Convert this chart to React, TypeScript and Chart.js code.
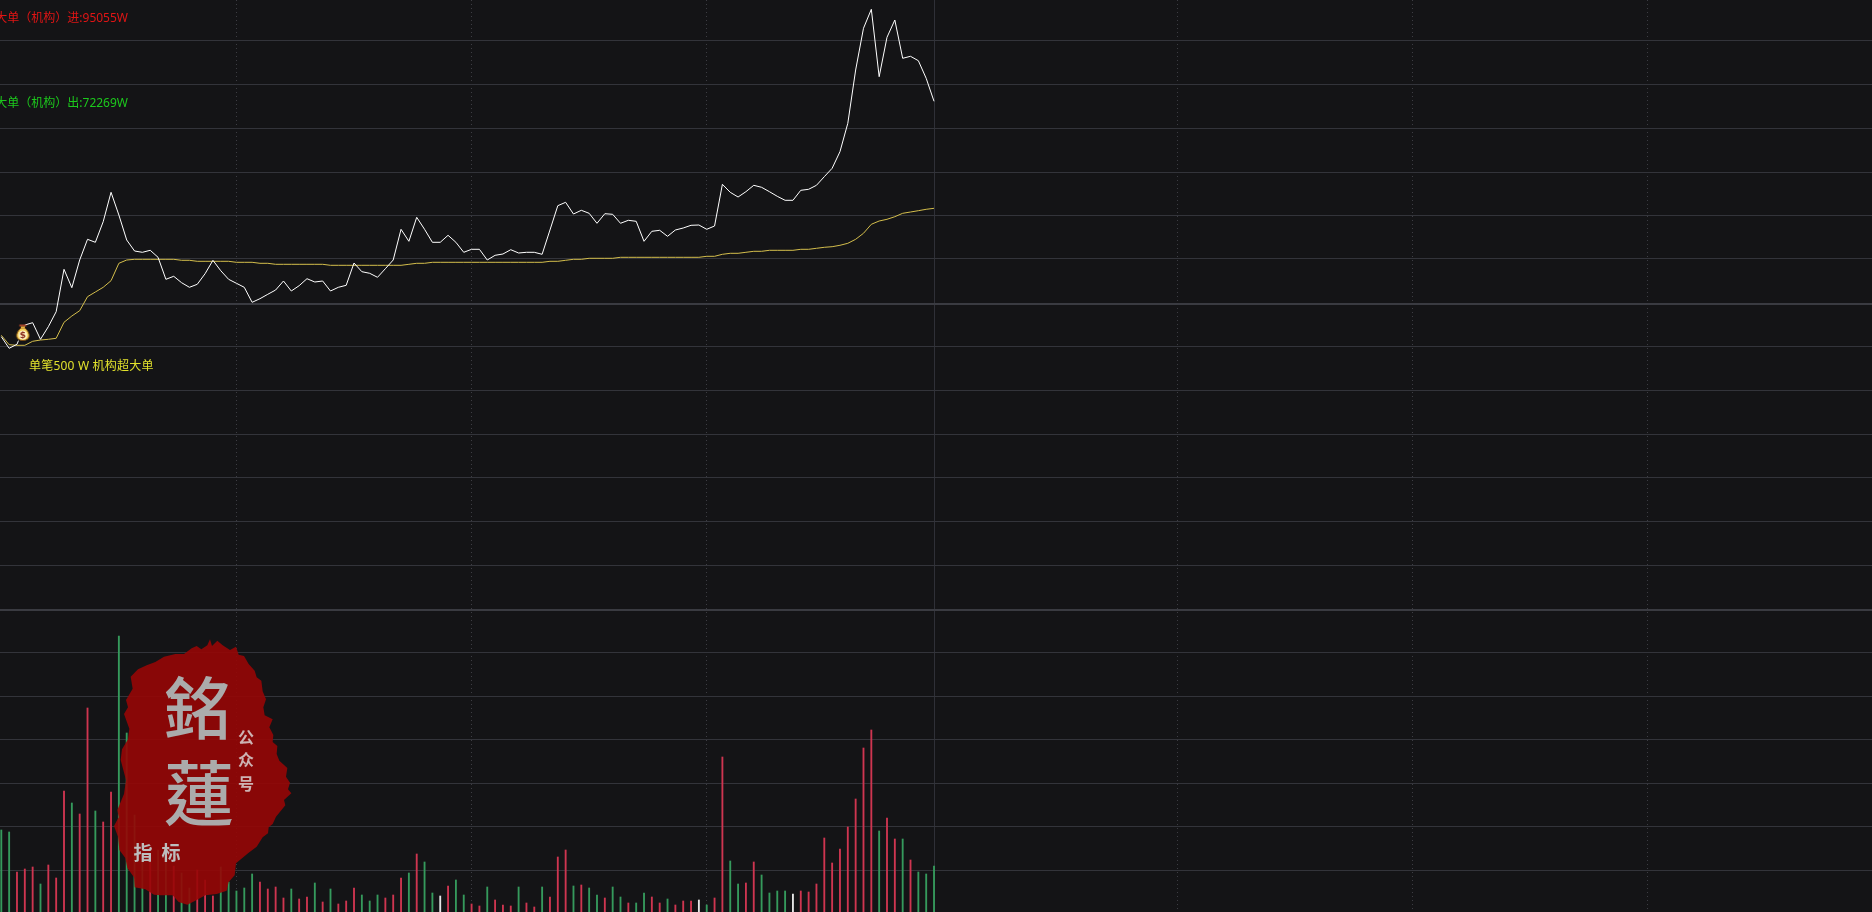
import React, { useEffect, useRef } from "react";
import { Chart, registerables } from "chart.js";

Chart.register(...registerables);

// Heights above the bottom of the plot, one value per minute of the morning session.
const inflowLine = [
  575.3, 563.7, 567.7, 587, 589.3, 572.7, 585.3, 600.3, 642.7, 624.3, 652, 672.7, 669.7, 690.3, 719.7, 697, 672, 661, 659.7, 661.7,
  654.7, 632.7, 635.7, 629.3, 624.7, 627.7, 638.3, 651.7, 641.3, 632.7, 628.7, 624.7, 609.7, 613.3, 617.7, 622, 631, 621, 626.3, 633.3,
  630, 631, 621, 624.7, 626.7, 649, 640.3, 638.7, 634.7, 643.3, 652, 682.7, 670.7, 694.7, 682.7, 669.7, 669.7, 676.7, 669.7, 659.7,
  662.7, 662.7, 652, 656.7, 658, 662.3, 659, 659.7, 659.7, 657.7, 682, 706.3, 709.7, 698, 701.7, 698.7, 688.7, 698.3, 697.7, 688.7,
  691.7, 690.7, 670.7, 680.7, 681.7, 675.7, 682, 684, 686.7, 687, 682.7, 686, 727.7, 719.7, 715, 720.3, 726.7, 724.7, 720.3, 715.7,
  711.7, 711.7, 721.7, 722.7, 726.7, 735.3, 743.7, 760.3, 788.7, 842, 883.7, 902.7, 835.3, 874.7, 892, 853.7, 855.7, 851.3, 833.7, 810.7,
];
const averageLine = [
  576.7, 567.3, 566.7, 566.7, 570.7, 572, 572.7, 573.7, 589.7, 596, 601.3, 615.3, 620, 624.7, 631.3, 648.7, 652, 652.7, 652.7, 652.7,
  652.7, 652.7, 652.7, 651.7, 651.7, 650.7, 650.7, 650.7, 650.7, 650.7, 649.7, 649.7, 649.7, 648.7, 648.7, 647.7, 647.7, 647.7, 647.7, 647.7,
  647.7, 647.7, 646.7, 646.7, 646.7, 646.7, 646.7, 646.7, 646.7, 646.7, 646.7, 646.7, 647.7, 648.7, 648.7, 649.7, 649.7, 649.7, 649.7, 649.7,
  649.7, 649.7, 649.7, 649.7, 649.7, 649.7, 649.7, 649.7, 649.7, 649.7, 650.7, 650.7, 651.7, 652.7, 652.7, 653.7, 653.7, 653.7, 653.7, 654.7,
  654.7, 654.7, 654.7, 654.7, 654.7, 654.7, 654.7, 654.7, 654.7, 654.7, 655.7, 655.7, 657.7, 658.7, 658.7, 659.7, 660.7, 660.7, 661.7, 661.7,
  661.7, 661.7, 662.7, 662.7, 663.7, 664.7, 665.3, 666.7, 668.7, 672.7, 678.7, 687.7, 691, 692.7, 695.3, 698.7, 700, 701.3, 702.7, 703.7,
];
const tradeVolumes = [
  82, 80, 40, 43, 45, 28, 47, 34, 121, 109, 98, 204, 101, 90, 120, 276, 179, 97, 59, 50,
  62, 59, 46, 39, 24, 42, 32, 16, 45, 30, 21, 24, 38, 30, 23, 25, 14, 23, 13, 15,
  29, 10, 23, 8, 11, 24, 17, 11, 17, 14, 17, 34, 39, 58, 50, 19, 16, 26, 32, 17,
  8, 6, 25, 12, 7, 6, 25, 9, 5, 25, 15, 55, 62, 26, 27, 24, 17, 14, 25, 15,
  9, 9, 19, 15, 9, 13, 7, 11, 11, 12, 7, 14, 155, 51, 28, 29, 50, 37, 19, 21,
  21, 18, 21, 20, 28, 74, 49, 63, 85, 113, 164, 182, 81, 94, 73, 73, 52, 40, 38, 46,
];
const tradeSides = [
  "g", "g", "r", "r", "r", "g", "r", "r", "r", "g", "r", "r", "g", "r", "r", "g", "g", "g", "g", "r",
  "g", "g", "r", "g", "g", "r", "r", "r", "g", "g", "g", "g", "g", "r", "r", "r", "r", "g", "r", "r",
  "g", "r", "g", "r", "r", "r", "g", "g", "g", "r", "r", "r", "g", "r", "g", "g", "w", "r", "g", "g",
  "r", "r", "g", "r", "r", "r", "g", "r", "r", "g", "r", "r", "r", "g", "r", "g", "g", "r", "g", "g",
  "r", "g", "g", "r", "r", "g", "r", "r", "r", "w", "g", "r", "r", "g", "g", "r", "r", "g", "g", "g",
  "g", "w", "r", "r", "r", "r", "r", "r", "r", "r", "r", "r", "g", "r", "r", "g", "r", "g", "g", "g",
];
const signalMarkers = [{ x: 3, y: 579 }];
const gridLevels = [871, 827, 784, 740, 697, 653, 608, 566, 522, 478, 435, 391, 347, 302, 260, 216, 173, 129, 86, 42];
const heavyLevels = [608, 302];
const timeTicks = [30, 60, 90, 119, 150, 180, 210];
const sessionBreak = 119;
const inflowLabel = "超大单（机构）进:95055W";
const outflowLabel = "超大单（机构）出:72269W";
const noteLabel = "单笔500 W 机构超大单";

const BG = "#141416";
const LABEL_FONT = "12px 'Noto Sans', 'Noto Sans CJK SC'";
const SIDE_COLORS: Record<string, string> = { r: "#cf3550", g: "#359a5c", w: "#e6e6e6" };
const SEAL_OUTLINE = [
  [575, 85], [590, 78], [604, 88], [622, 76], [630, 58], [636, 78], [652, 62], [668, 76], [690, 90], [708, 80], [716, 104], [732, 108], [746, 132], [764, 152], [770, 172], [784, 182],
  [788, 214], [798, 238], [790, 262], [794, 286], [818, 298], [808, 322], [820, 345], [818, 366], [832, 378], [830, 402], [838, 422], [862, 444], [858, 470], [870, 488], [864, 508], [874, 520],
  [852, 540], [856, 556], [828, 590], [818, 612], [806, 622], [804, 640], [788, 652], [770, 680], [746, 698], [708, 730], [704, 766], [686, 786], [680, 812], [650, 822], [616, 826], [590, 840],
  [562, 854], [536, 846], [518, 826], [482, 826], [462, 824], [436, 808], [404, 802], [402, 772], [382, 744], [376, 714], [358, 690], [354, 650], [342, 618], [356, 592], [352, 570], [372, 522],
  [378, 480], [362, 420], [366, 388], [384, 358], [388, 326], [372, 282], [384, 262], [378, 240], [398, 206], [392, 170], [414, 148], [440, 136], [466, 126], [492, 110], [526, 102], [552, 102],
];

function makeBagIcon(): HTMLCanvasElement {
  const c = document.createElement("canvas");
  c.width = 20;
  c.height = 20;
  const g = c.getContext("2d")!;
  g.fillStyle = BG;
  g.beginPath();
  g.arc(8, 11, 8, 0, Math.PI * 2);
  g.fill();
  g.fillStyle = "#f4cf5a";
  g.strokeStyle = "#7a4a12";
  g.lineWidth = 1;
  g.beginPath();
  g.moveTo(6, 5);
  g.bezierCurveTo(0, 10, 0, 17.5, 8, 17.5);
  g.bezierCurveTo(16, 17.5, 16, 10, 10, 5);
  g.closePath();
  g.fill();
  g.stroke();
  g.fillStyle = "#fff2c0";
  g.beginPath();
  g.arc(8, 12, 4.5, 0, Math.PI * 2);
  g.fill();
  g.fillStyle = "#a5452a";
  g.fillRect(4.5, 1.5, 7, 2);
  g.fillStyle = "#e8b040";
  g.fillRect(6, 3.5, 4, 2);
  g.fillStyle = "#8c2f20";
  g.font = "bold 9px 'DejaVu Sans'";
  g.textAlign = "center";
  g.textBaseline = "middle";
  g.fillText("$", 8, 12.5);
  return c;
}

const overlayPlugin = {
  id: "overlay",
  afterDatasetsDraw(chart: Chart) {
    const ctx = chart.ctx;
    ctx.save();
    ctx.textBaseline = "middle";
    ctx.font = LABEL_FONT;
    ctx.textAlign = "right";
    ctx.fillStyle = "#e01414";
    ctx.fillText(inflowLabel, 128, 19);
    ctx.fillStyle = "#1cc81c";
    ctx.fillText(outflowLabel, 128, 104);
    ctx.textAlign = "left";
    ctx.fillStyle = "#e2e22c";
    (ctx as any).letterSpacing = "0.2px";
    ctx.fillText(noteLabel, 29, 367);
    (ctx as any).letterSpacing = "0px";

    ctx.fillStyle = "rgba(150,5,5,0.9)";
    ctx.beginPath();
    SEAL_OUTLINE.forEach(([sx, sy], i) => {
      const px = sx / 3;
      const py = 620 + sy / 3;
      if (i === 0) ctx.moveTo(px, py);
      else ctx.lineTo(px, py);
    });
    ctx.closePath();
    ctx.fill();

    ctx.textAlign = "center";
    ctx.fillStyle = "#ababab";
    ctx.font = "500 68px 'Noto Sans CJK TC'";
    ctx.fillText("銘", 198, 708);
    ctx.font = "500 70px 'Noto Sans CJK TC'";
    ctx.fillText("蓮", 199, 793);
    ctx.fillStyle = "#cdb3b3";
    ctx.font = "bold 16px 'Noto Sans CJK SC'";
    ctx.fillText("公", 246, 737);
    ctx.fillText("众", 246, 760);
    ctx.fillText("号", 246, 784);
    ctx.fillStyle = "#bdbdbd";
    ctx.font = "bold 19px 'Noto Sans CJK SC'";
    ctx.fillText("指", 143, 853);
    ctx.fillText("标", 171, 853);
    ctx.restore();
  },
};

export default function App() {
  const ref = useRef<HTMLCanvasElement>(null);
  useEffect(() => {
    document.body.style.margin = "0";
    document.body.style.background = BG;
    const chart = new Chart(ref.current!, {
      type: "bar",
      data: {
        datasets: [
          {
            type: "line",
            label: "信号",
            data: signalMarkers,
            yAxisID: "y",
            showLine: false,
            pointStyle: makeBagIcon() as any,
            pointRadius: 10,
          },
          {
            type: "line",
            label: "进",
            data: inflowLine.map((y, x) => ({ x, y })),
            yAxisID: "y",
            borderColor: "#ffffff",
            borderWidth: 1,
            pointRadius: 0,
            tension: 0,
          },
          {
            type: "line",
            label: "均",
            data: averageLine.map((y, x) => ({ x, y })),
            yAxisID: "y",
            borderColor: "#d4be4c",
            borderWidth: 1,
            pointRadius: 0,
            tension: 0,
          },
          {
            type: "bar",
            label: "量",
            data: tradeVolumes.map((y, x) => ({ x, y })),
            yAxisID: "yVol",
            backgroundColor: tradeSides.map((s) => SIDE_COLORS[s]),
            barThickness: 1.2,
            borderWidth: 0,
          },
        ],
      },
      options: {
        animation: false,
        responsive: false,
        maintainAspectRatio: false,
        parsing: { xAxisKey: "x", yAxisKey: "y" } as any,
        layout: { padding: 0, autoPadding: false },
        plugins: { legend: { display: false }, tooltip: { enabled: false } },
        scales: {
          x: {
            type: "linear",
            min: -0.166,
            max: 238.67,
            offset: false,
            afterBuildTicks: (s: any) => {
              s.ticks = timeTicks.map((value) => ({ value }));
            },
            ticks: { display: false },
            grid: {
              offset: false,
              drawTicks: false,
              color: (c: any) => (c.tick?.value === sessionBreak ? "#2f3037" : "#3d3d43"),
            },
            border: {
              display: false,
              dash: (c: any) => (c.tick?.value === sessionBreak ? [] : [1, 3]),
            },
          } as any,
          y: {
            type: "linear",
            min: 0,
            max: 912,
            afterBuildTicks: (s: any) => {
              s.ticks = gridLevels.map((value) => ({ value }));
            },
            ticks: { display: false },
            grid: {
              drawTicks: false,
              color: (c: any) => (heavyLevels.includes(c.tick?.value) ? "#3a3b41" : "#33343a"),
              lineWidth: (c: any) => (heavyLevels.includes(c.tick?.value) ? 2 : 1),
            },
            border: { display: false },
          } as any,
          yVol: { type: "linear", min: 0, max: 912, display: false },
        },
      },
      plugins: [overlayPlugin],
    } as any);
    return () => chart.destroy();
  }, []);
  return (
    <canvas
      ref={ref}
      width={1872}
      height={912}
      style={{ display: "block", width: 1872, height: 912, background: BG }}
    />
  );
}
